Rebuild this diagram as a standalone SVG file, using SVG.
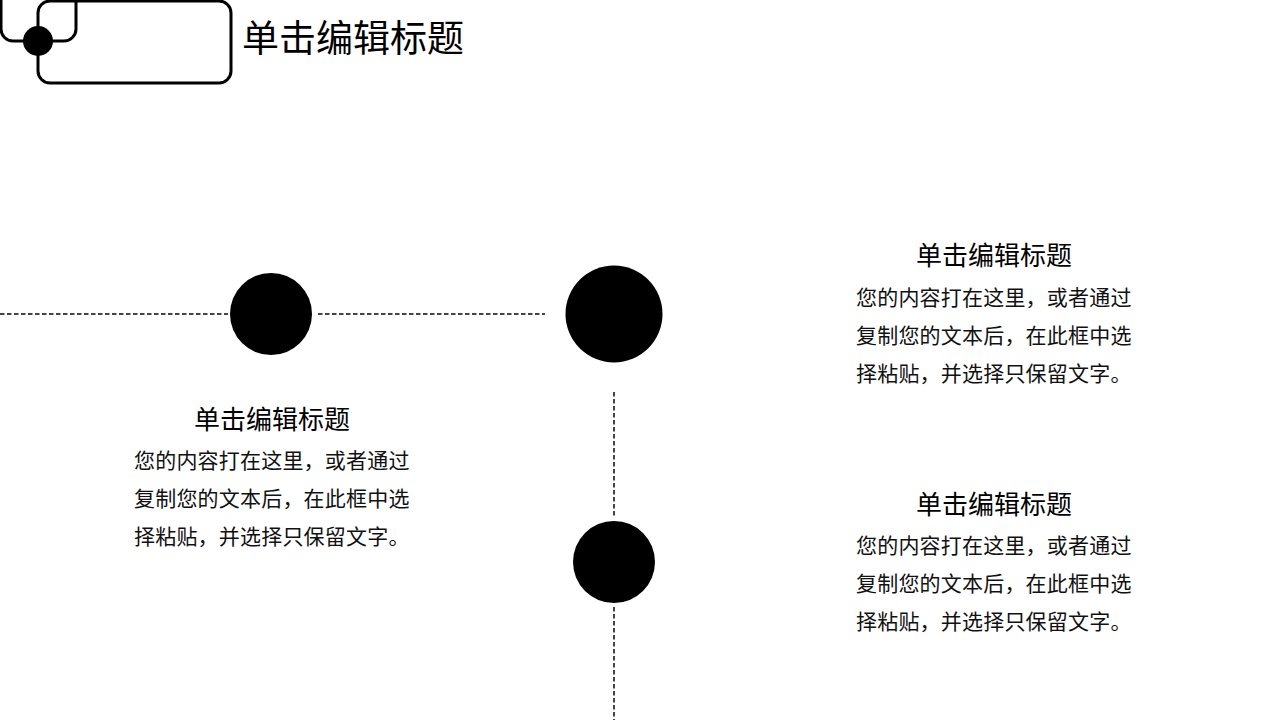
<svg xmlns="http://www.w3.org/2000/svg" width="1280" height="720" viewBox="0 0 1280 720">
<style>
.t{font-family:"Noto Sans CJK SC","Liberation Sans",sans-serif;fill:#000}
.h{font-size:26px;text-anchor:middle}
.b{font-size:21px;fill:#111;letter-spacing:0.2px}
.dash{stroke:#444;stroke-width:2;stroke-dasharray:4.5 2.5;fill:none}
.logo{fill:none;stroke:#000;stroke-width:3}
</style>
<rect width="1280" height="720" fill="#fff"/>
<g id="logo">
<rect class="logo" x="1" y="-30" width="75" height="71" rx="12"/>
<rect class="logo" x="38" y="1" width="193" height="82" rx="12"/>
<circle cx="38" cy="41" r="15" fill="#000"/>
</g>
<g id="title"><text class="t" x="242" y="52" font-size="37">单击编辑标题</text></g>
<g id="connectors">
<line class="dash" x1="0" y1="314" x2="228" y2="314"/>
<line class="dash" x1="318" y1="314" x2="545" y2="314"/>
<line class="dash" x1="614" y1="392" x2="614" y2="517"/>
<line class="dash" x1="614" y1="607" x2="614" y2="720"/>
</g>
<g id="node-left"><circle cx="271" cy="314" r="41" fill="#000"/></g>
<g id="node-center"><circle cx="614" cy="314" r="48.5" fill="#000"/></g>
<g id="node-bottom"><circle cx="614" cy="562" r="41" fill="#000"/></g>
<g id="text-left">
<text class="t h" x="272" y="429">单击编辑标题</text>
<text class="t b" x="134" y="468">您的内容打在这里，或者通过</text>
<text class="t b" x="134" y="506">复制您的文本后，在此框中选</text>
<text class="t b" x="134" y="544">择粘贴，并选择只保留文字。</text>
</g>
<g id="text-right-1">
<text class="t h" x="994" y="265">单击编辑标题</text>
<text class="t b" x="856" y="305">您的内容打在这里，或者通过</text>
<text class="t b" x="856" y="343">复制您的文本后，在此框中选</text>
<text class="t b" x="856" y="381">择粘贴，并选择只保留文字。</text>
</g>
<g id="text-right-2">
<text class="t h" x="994" y="514">单击编辑标题</text>
<text class="t b" x="856" y="553">您的内容打在这里，或者通过</text>
<text class="t b" x="856" y="591">复制您的文本后，在此框中选</text>
<text class="t b" x="856" y="629">择粘贴，并选择只保留文字。</text>
</g>
</svg>
